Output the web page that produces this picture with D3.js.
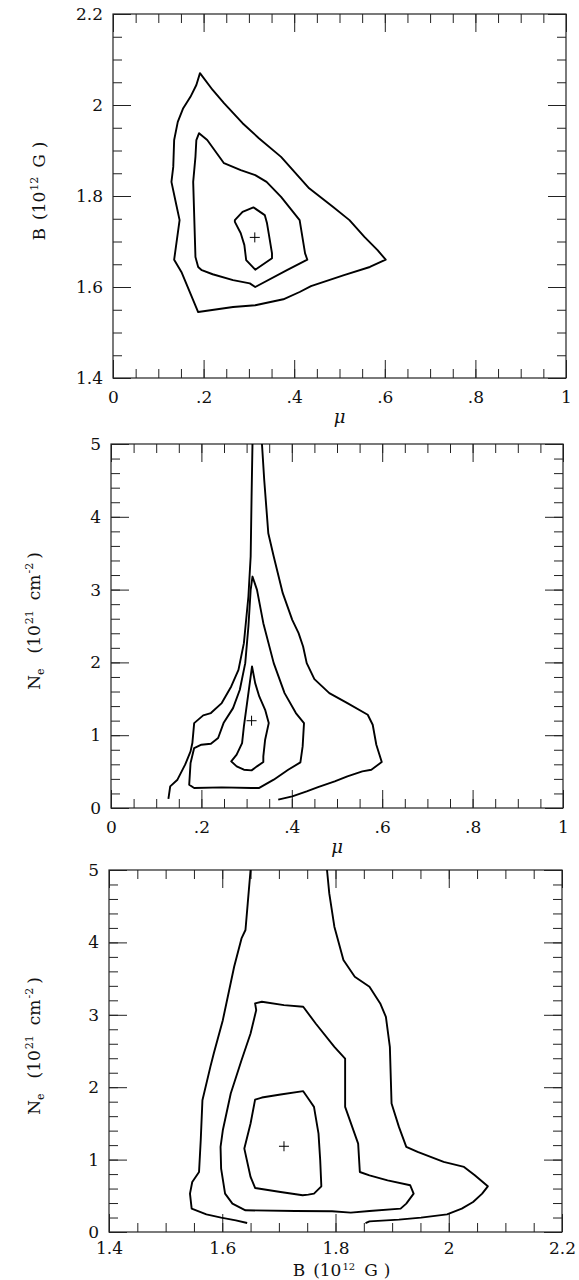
<!DOCTYPE html>
<html>
<head>
<meta charset="utf-8">
<script src="https://cdn.jsdelivr.net/npm/d3@7"></script>
<style>
body { margin: 0; background: #fff; }
svg text { font-family: "DejaVu Serif", serif; fill: #111; }
</style>
</head>
<body>
<svg id="chart" width="579" height="1280"></svg>
<script>
// tick values and labels
var muTicks = [0, 0.2, 0.4, 0.6, 0.8, 1];
var muTickLabels = ["0", ".2", ".4", ".6", ".8", "1"];
var bTicks = [1.4, 1.6, 1.8, 2.0, 2.2];
var bTickLabels = ["1.4", "1.6", "1.8", "2", "2.2"];
var neTicks = [0, 1, 2, 3, 4, 5];
var neTickLabels = ["0", "1", "2", "3", "4", "5"];

// panel 1: mu vs B (closed contours)
var muB_outer = [[0.192,2.070],[0.220,2.033],[0.245,2.004],[0.286,1.960],[0.322,1.927],[0.371,1.886],
  [0.433,1.817],[0.486,1.776],[0.522,1.747],[0.555,1.710],[0.584,1.681],[0.602,1.660],[0.567,1.644],
  [0.510,1.626],[0.437,1.602],[0.412,1.589],[0.376,1.573],[0.314,1.560],[0.265,1.556],[0.188,1.545],
  [0.151,1.633],[0.135,1.660],[0.147,1.747],[0.139,1.784],[0.129,1.831],[0.133,1.864],[0.135,1.923],
  [0.143,1.963],[0.155,1.993],[0.171,2.018],[0.184,2.044]];
var muB_mid = [[0.190,1.938],[0.208,1.923],[0.245,1.872],[0.282,1.857],[0.314,1.846],[0.339,1.831],
  [0.371,1.798],[0.412,1.747],[0.424,1.674],[0.429,1.660],[0.384,1.637],[0.314,1.600],[0.302,1.608],
  [0.265,1.615],[0.220,1.628],[0.196,1.637],[0.188,1.644],[0.182,1.666],[0.177,1.831],[0.182,1.886],
  [0.184,1.923]];
var muB_inner = [[0.269,1.747],[0.286,1.765],[0.310,1.775],[0.335,1.758],[0.340,1.740],[0.345,1.710],
  [0.351,1.674],[0.351,1.663],[0.314,1.638],[0.294,1.659],[0.290,1.692],[0.282,1.718],[0.269,1.743]];
var muB_best = [0.313, 1.709];

// panel 2: mu vs Ne
var muNe_outer = [[0.127,0.124],[0.131,0.297],[0.147,0.389],[0.164,0.595],[0.176,0.778],[0.180,0.892],
  [0.184,1.166],[0.204,1.272],[0.221,1.304],[0.245,1.441],[0.266,1.670],[0.282,1.898],[0.294,2.264],
  [0.304,2.905],[0.309,3.454],[0.311,4.277],[0.313,5.0]];
var muNe_outerRight = [[0.334,5.0],[0.339,4.506],[0.348,3.774],[0.360,3.454],[0.380,2.951],[0.401,2.585],
  [0.415,2.402],[0.425,2.219],[0.433,1.990],[0.450,1.770],[0.483,1.578],[0.523,1.441],[0.568,1.281],
  [0.579,1.144],[0.587,0.869],[0.599,0.631],[0.576,0.526],[0.556,0.503],[0.523,0.435],[0.495,0.366],
  [0.458,0.288],[0.433,0.229],[0.401,0.160],[0.370,0.114]];
var muNe_mid = [[0.313,3.179],[0.323,2.996],[0.337,2.539],[0.360,1.990],[0.384,1.578],[0.409,1.304],
  [0.427,1.166],[0.424,0.846],[0.419,0.627],[0.392,0.526],[0.360,0.389],[0.327,0.274],[0.311,0.274],
  [0.245,0.284],[0.184,0.274],[0.173,0.320],[0.176,0.618],[0.184,0.823],[0.200,0.869],[0.221,0.883],
  [0.237,0.961],[0.249,1.166],[0.270,1.372],[0.285,1.624],[0.297,1.990],[0.304,2.493],[0.309,2.996]];
var muNe_inner = [[0.312,1.944],[0.319,1.715],[0.328,1.532],[0.341,1.349],[0.349,1.166],[0.341,0.938],
  [0.337,0.709],[0.337,0.631],[0.323,0.572],[0.311,0.517],[0.294,0.526],[0.278,0.572],[0.266,0.640],
  [0.278,0.732],[0.290,0.892],[0.294,1.121],[0.301,1.441],[0.307,1.715]];
var muNe_best = [0.311, 1.199];

// panel 3: B vs Ne
var bNe_outer = [[1.644,0.124],[1.624,0.161],[1.598,0.198],[1.572,0.244],[1.546,0.323],[1.543,0.530],
  [1.547,0.691],[1.559,0.829],[1.562,1.267],[1.565,1.820],[1.579,2.281],[1.585,2.465],[1.601,2.926],
  [1.621,3.664],[1.634,4.055],[1.641,4.171],[1.645,4.539],[1.650,5.0]];
var bNe_outerRight = [[1.785,5.0],[1.789,4.677],[1.798,4.217],[1.814,3.756],[1.834,3.525],[1.860,3.387],
  [1.879,3.157],[1.889,2.972],[1.896,2.558],[1.899,1.774],[1.912,1.452],[1.925,1.175],[1.945,1.106],
  [1.991,0.968],[2.027,0.899],[2.046,0.783],[2.069,0.631],[2.059,0.530],[2.043,0.415],[2.023,0.323],
  [1.997,0.244],[1.951,0.198],[1.912,0.171],[1.860,0.147],[1.853,0.124]];
var bNe_mid = [[1.658,3.157],[1.670,3.180],[1.709,3.134],[1.743,3.111],[1.765,2.880],[1.798,2.558],
  [1.817,2.396],[1.817,1.728],[1.840,1.221],[1.843,0.829],[1.860,0.783],[1.892,0.714],[1.932,0.645],
  [1.938,0.530],[1.925,0.392],[1.915,0.323],[1.860,0.290],[1.827,0.267],[1.794,0.286],[1.729,0.290],
  [1.641,0.300],[1.618,0.392],[1.605,0.530],[1.598,0.876],[1.597,1.175],[1.601,1.405],[1.615,1.912],
  [1.634,2.373],[1.650,2.742],[1.660,3.065]];
var bNe_inner = [[1.658,1.829],[1.670,1.857],[1.703,1.899],[1.743,1.945],[1.754,1.820],[1.762,1.728],
  [1.770,1.359],[1.773,0.991],[1.775,0.631],[1.762,0.530],[1.752,0.516],[1.742,0.507],[1.703,0.553],
  [1.658,0.608],[1.650,0.760],[1.639,1.152],[1.650,1.498]];
var bNe_best = [1.709, 1.184];

var svg = d3.select("#chart");

var bTitle = [{t: "B"}, {t: "(10", dx: 8}, {t: "12", dy: -7, size: 11, dx: 1}, {t: "G", dy: 7, dx: 9}, {t: ")", dx: 6}];
var bTitleLow = [{t: "B"}, {t: "(10", dx: 8}, {t: "12", dy: -6, size: 10, dx: 1}, {t: "G", dy: 6, dx: 9}, {t: ")", dx: 6}];
var neTitle = [{t: "N"}, {t: "e", dy: 4, size: 11}, {t: "(10", dx: 15, dy: -4}, {t: "21", dy: -7, size: 11, dx: 1},
  {t: "cm", dx: 10, dy: 7}, {t: "-2", dy: -7, size: 11, dx: 1}, {t: ")", dx: 4, dy: 7}];

var panels = [
  {left: 113, right: 566, top: 14, bottom: 378,
   xDomain: [0, 1], yDomain: [1.4, 2.2],
   xMajor: muTicks, xLabels: muTickLabels, xMinor: 0.05, xPad: 13,
   yMajor: bTicks, yLabels: bTickLabels, yMinor: 0.05,
   closed: [muB_outer, muB_mid, muB_inner], open: [],
   best: muB_best, xTitle: "mu", xTitleY: 423, yTitle: bTitle, yTitleX: 45},
  {left: 111, right: 563, top: 444, bottom: 808,
   xDomain: [0, 1], yDomain: [0, 5],
   xMajor: muTicks, xLabels: muTickLabels, xMinor: 0.05, xPad: 13,
   yMajor: neTicks, yLabels: neTickLabels, yMinor: 0.2,
   closed: [muNe_mid, muNe_inner], open: [muNe_outer, muNe_outerRight],
   best: muNe_best, xTitle: "mu", xTitleY: 853, yTitle: neTitle, yTitleX: 40},
  {left: 109, right: 562, top: 870, bottom: 1232,
   xDomain: [1.4, 2.2], yDomain: [0, 5],
   xMajor: bTicks, xLabels: bTickLabels, xMinor: 0.05, xPad: 10,
   yMajor: neTicks, yLabels: neTickLabels, yMinor: 0.2,
   closed: [bNe_mid, bNe_inner], open: [bNe_outer, bNe_outerRight],
   best: bNe_best, xTitle: "B", xTitleY: 1276, yTitle: neTitle, yTitleX: 40}
];

function addTspans(text, parts) {
  parts.forEach(function(p) {
    var ts = text.append("tspan").text(p.t);
    if (p.dx) ts.attr("dx", p.dx);
    if (p.dy) ts.attr("dy", p.dy);
    if (p.size) ts.attr("font-size", p.size);
  });
}

function styleAxis(g) {
  g.select(".domain").remove();
  g.attr("font-family", "DejaVu Serif").attr("font-size", 17);
  g.selectAll(".tick line").attr("stroke", "#222").attr("stroke-width", 1);
}

panels.forEach(function(p) {
  var w = p.right - p.left;
  var h = p.bottom - p.top;
  var x = d3.scaleLinear().domain(p.xDomain).range([0, w]);
  var y = d3.scaleLinear().domain(p.yDomain).range([h, 0]);

  var g = svg.append("g").attr("transform", `translate(${p.left},${p.top})`);

  var xMinorVals = d3.range(p.xDomain[0], p.xDomain[1] + 1e-9, p.xMinor);
  var yMinorVals = d3.range(p.yDomain[0], p.yDomain[1] + 1e-9, p.yMinor);

  // minor ticks on all four sides
  g.append("g").attr("transform", `translate(0,${h})`)
    .call(d3.axisBottom(x).tickValues(xMinorVals).tickSize(-9).tickFormat(""))
    .call(styleAxis);
  g.append("g")
    .call(d3.axisTop(x).tickValues(xMinorVals).tickSize(-9).tickFormat(""))
    .call(styleAxis);
  g.append("g")
    .call(d3.axisLeft(y).tickValues(yMinorVals).tickSize(-9).tickFormat(""))
    .call(styleAxis);
  g.append("g").attr("transform", `translate(${w},0)`)
    .call(d3.axisRight(y).tickValues(yMinorVals).tickSize(-9).tickFormat(""))
    .call(styleAxis);

  // major ticks
  g.append("g").attr("transform", `translate(0,${h})`)
    .call(d3.axisBottom(x).tickValues(p.xMajor).tickSize(-18).tickPadding(p.xPad)
      .tickFormat(function(d, i) { return p.xLabels[i]; }))
    .call(styleAxis);
  g.append("g")
    .call(d3.axisTop(x).tickValues(p.xMajor).tickSize(-18).tickFormat(""))
    .call(styleAxis);
  g.append("g")
    .call(d3.axisLeft(y).tickValues(p.yMajor).tickSize(-18).tickPadding(10)
      .tickFormat(function(d, i) { return p.yLabels[i]; }))
    .call(styleAxis);
  g.append("g").attr("transform", `translate(${w},0)`)
    .call(d3.axisRight(y).tickValues(p.yMajor).tickSize(-18).tickFormat(""))
    .call(styleAxis);

  g.selectAll(".tick text").attr("fill", "#111");

  // frame
  g.append("rect")
    .attr("width", w).attr("height", h)
    .attr("fill", "none").attr("stroke", "#222").attr("stroke-width", 1.2);

  var line = d3.line().x(function(d) { return x(d[0]); }).y(function(d) { return y(d[1]); });

  p.closed.forEach(function(c) {
    g.append("path").attr("d", line(c) + "Z")
      .attr("fill", "none").attr("stroke", "#000").attr("stroke-width", 1.9)
      .attr("stroke-linejoin", "round");
  });
  p.open.forEach(function(c) {
    g.append("path").attr("d", line(c))
      .attr("fill", "none").attr("stroke", "#000").attr("stroke-width", 1.9)
      .attr("stroke-linejoin", "round");
  });

  // best fit cross
  var bx = x(p.best[0]), by = y(p.best[1]);
  g.append("line").attr("x1", bx - 5).attr("x2", bx + 5).attr("y1", by).attr("y2", by)
    .attr("stroke", "#000").attr("stroke-width", 1);
  g.append("line").attr("x1", bx).attr("x2", bx).attr("y1", by - 5).attr("y2", by + 5)
    .attr("stroke", "#000").attr("stroke-width", 1);

  // x title
  var cx = (p.left + p.right) / 2;
  if (p.xTitle === "mu") {
    svg.append("text").attr("x", cx).attr("y", p.xTitleY)
      .attr("text-anchor", "middle").attr("font-size", 18).attr("font-style", "italic")
      .text("\u03bc");
  } else {
    var xt = svg.append("text").attr("x", cx + 6).attr("y", p.xTitleY)
      .attr("text-anchor", "middle").attr("font-size", 17);
    addTspans(xt, bTitleLow);
  }

  // y title
  var yt = svg.append("text")
    .attr("transform", `translate(${p.yTitleX},${(p.top + p.bottom) / 2 - 5}) rotate(-90)`)
    .attr("text-anchor", "middle").attr("font-size", 17);
  addTspans(yt, p.yTitle);
});
</script>
</body>
</html>
